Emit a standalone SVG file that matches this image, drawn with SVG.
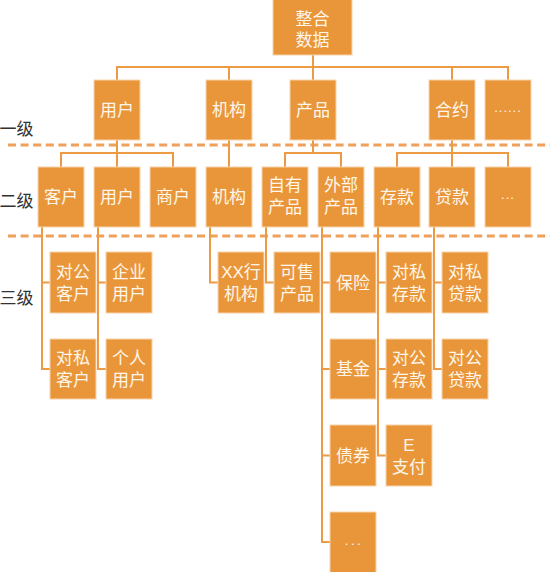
<svg xmlns="http://www.w3.org/2000/svg" width="550" height="572" viewBox="0 0 550 572">
<style>
.n rect{fill:#E9963A;stroke:#F7D3AC;stroke-width:1}
.n text{fill:#FFF6EA;font-family:"Liberation Sans","Noto Sans CJK SC",sans-serif;font-size:17px;text-anchor:middle}
.n text.d{font-size:13px;letter-spacing:1px}
.n text.w{letter-spacing:2.5px}
.lv{fill:#333333;font-family:"Liberation Sans","Noto Sans CJK SC",sans-serif;font-size:17px}
.c path{fill:none;stroke:#EC9A44;stroke-width:2}
.dash{stroke:#EFA05A;stroke-width:3;stroke-dasharray:8 4.6}
</style>
<rect width="550" height="572" fill="#FFFFFF"/>
<g id="levels">
<line class="dash" x1="8" y1="145" x2="550" y2="145"/>
<line class="dash" x1="8" y1="236" x2="550" y2="236"/>
<text class="lv" x="-0.5" y="135">一级</text>
<text class="lv" x="-0.5" y="207">二级</text>
<text class="lv" x="-0.5" y="304">三级</text>
</g>
<g id="connectors" class="c">
<path d="M313 55V67M117 80V67H508V80M229 67V80M313 67V80M452 67V80"/>
<path d="M117 140V153M61 167V153H173V167M117 153V167"/>
<path d="M229 140V167"/>
<path d="M313 140V153M285 167V153H341V167"/>
<path d="M452 140V153M397 167V153H508V167M452 153V167"/>
<path d="M42 227V369H50M42 282.5H50"/>
<path d="M98 227V369H106M98 282.5H106"/>
<path d="M210 227V282.5H218"/>
<path d="M266 227V282.5H274"/>
<path d="M322 227V542H330M322 282.5H330M322 369H330M322 455.5H330"/>
<path d="M378 227V455.5H386M378 282.5H386M378 369H386"/>
<path d="M434 227V369H442M434 282.5H442"/>
</g>
<g id="root" class="n"><rect x="273" y="-1" width="79" height="56"/><text x="312.5" y="24.5">整合<tspan x="312.5" dy="21.5">数据</tspan></text></g>
<g id="l1-user" class="n"><rect x="94" y="80" width="46" height="60"/><text x="117" y="116">用户</text></g>
<g id="l1-org" class="n"><rect x="206" y="80" width="46" height="60"/><text x="229" y="116">机构</text></g>
<g id="l1-prod" class="n"><rect x="290" y="80" width="46" height="60"/><text x="313" y="116">产品</text></g>
<g id="l1-contract" class="n"><rect x="429" y="80" width="46" height="60"/><text x="452" y="116">合约</text></g>
<g id="l1-more" class="n"><rect x="485" y="80" width="46" height="60"/><text class="d" x="508" y="112">......</text></g>
<g id="l2-cust" class="n"><rect x="38" y="167" width="46" height="60"/><text x="61" y="203">客户</text></g>
<g id="l2-user" class="n"><rect x="94" y="167" width="46" height="60"/><text x="117" y="203">用户</text></g>
<g id="l2-merchant" class="n"><rect x="150" y="167" width="46" height="60"/><text x="173" y="203">商户</text></g>
<g id="l2-org" class="n"><rect x="206" y="167" width="46" height="60"/><text x="229" y="203">机构</text></g>
<g id="l2-own" class="n"><rect x="262" y="167" width="46" height="60"/><text x="285" y="191">自有<tspan x="285" dy="22">产品</tspan></text></g>
<g id="l2-ext" class="n"><rect x="318" y="167" width="46" height="60"/><text x="341" y="191">外部<tspan x="341" dy="22">产品</tspan></text></g>
<g id="l2-dep" class="n"><rect x="374" y="167" width="46" height="60"/><text x="397" y="203">存款</text></g>
<g id="l2-loan" class="n"><rect x="429" y="167" width="46" height="60"/><text x="452" y="203">贷款</text></g>
<g id="l2-more" class="n"><rect x="485" y="167" width="46" height="60"/><text class="d" x="508" y="199">...</text></g>
<g id="l3-corp-cust" class="n"><rect x="50" y="252" width="46" height="61"/><text x="73" y="277.5">对公<tspan x="73" dy="22">客户</tspan></text></g>
<g id="l3-priv-cust" class="n"><rect x="50" y="339" width="46" height="60"/><text x="73" y="364">对私<tspan x="73" dy="22">客户</tspan></text></g>
<g id="l3-ent-user" class="n"><rect x="106" y="252" width="46" height="61"/><text x="129" y="277.5">企业<tspan x="129" dy="22">用户</tspan></text></g>
<g id="l3-ind-user" class="n"><rect x="106" y="339" width="46" height="60"/><text x="129" y="364">个人<tspan x="129" dy="22">用户</tspan></text></g>
<g id="l3-xx" class="n"><rect x="218" y="252" width="46" height="61"/><text x="241" y="277.5">XX行<tspan x="241" dy="22">机构</tspan></text></g>
<g id="l3-sale" class="n"><rect x="274" y="252" width="46" height="61"/><text x="297" y="277.5">可售<tspan x="297" dy="22">产品</tspan></text></g>
<g id="l3-ins" class="n"><rect x="330" y="252" width="46" height="61"/><text x="353" y="288.5">保险</text></g>
<g id="l3-fund" class="n"><rect x="330" y="339" width="46" height="60"/><text x="353" y="375">基金</text></g>
<g id="l3-bond" class="n"><rect x="330" y="425" width="46" height="61"/><text x="353" y="461.5">债券</text></g>
<g id="l3-more" class="n"><rect x="330" y="512" width="46" height="62"/><text class="d w" x="354" y="545">...</text></g>
<g id="l3-priv-dep" class="n"><rect x="386" y="252" width="46" height="61"/><text x="409" y="277.5">对私<tspan x="409" dy="22">存款</tspan></text></g>
<g id="l3-corp-dep" class="n"><rect x="386" y="339" width="46" height="60"/><text x="409" y="364">对公<tspan x="409" dy="22">存款</tspan></text></g>
<g id="l3-epay" class="n"><rect x="386" y="425" width="46" height="61"/><text x="409" y="450.5">E<tspan x="409" dy="22">支付</tspan></text></g>
<g id="l3-priv-loan" class="n"><rect x="442" y="252" width="46" height="61"/><text x="465" y="277.5">对私<tspan x="465" dy="22">贷款</tspan></text></g>
<g id="l3-corp-loan" class="n"><rect x="442" y="339" width="46" height="60"/><text x="465" y="364">对公<tspan x="465" dy="22">贷款</tspan></text></g>
</svg>
